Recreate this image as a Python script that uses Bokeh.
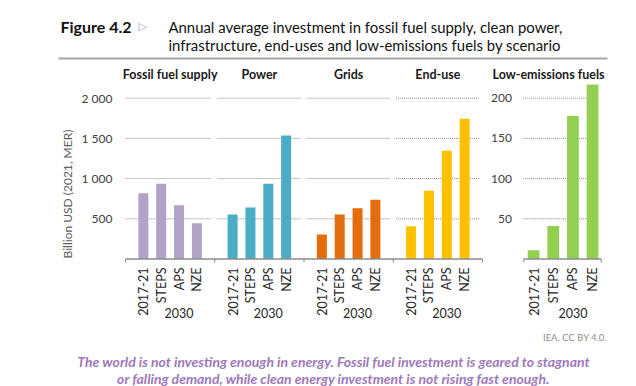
from math import pi
from bokeh.plotting import figure
from bokeh.layouts import column
from bokeh.models import Range1d, FixedTicker, ColumnDataSource
from bokeh.core.properties import value
from bokeh.embed import file_html
from bokeh.resources import INLINE

# ---------------- data ----------------
groups = ["Fossil fuel supply", "Power", "Grids", "End-use"]
right_group = "Low-emissions fuels"
scenarios = ["2017-21", "STEPS", "APS", "NZE"]
period = "2030"
fossil = [818, 935, 668, 445]
power = [555, 642, 935, 1536]
grids = [305, 553, 632, 736]
end_use = [408, 848, 1346, 1744]
low_emissions = [11, 41, 178, 217]
left_ticks = [500, 1000, 1500, 2000]
left_tick_labels = ["500", "1 000", "1 500", "2 000"]
right_ticks = [50, 100, 150, 200]
right_tick_labels = ["50", "100", "150", "200"]
group_colors = ["#b3a2c7", "#4bacc6", "#e46c0a", "#ffc000"]
right_color = "#92d050"
y_label = "Billion USD (2021, MER)"
fig_label = "Figure 4.2"
title_lines = ["Annual average investment in fossil fuel supply, clean power,",
               "infrastructure, end-uses and low-emissions fuels by scenario"]
caption_lines = ["The world is not investing enough in energy. Fossil fuel investment is geared to stagnant",
                 "or falling demand, while clean energy investment is not rising fast enough."]
credit = "IEA. CC BY 4.0."

# ---------------- layout constants (page pixels) ----------------
W = 636
HEAD_H, MAIN_T, MAIN_B, FULL_H = 62, 62, 325, 386
FRAME_L, FRAME_R = 122, 636
X0_L, PX_L = 125.0, 17.85        # left panel: x=0 position and px per slot
X0_R, PX_R = 523.3, 19.65        # right panel
Y0 = 258.5                       # page y of value 0
UPP = 500 / 40.2                 # left units per pixel
UPP_R = UPP / 10
FONT = "Lato"


def ypx(py, upp=UPP):
    return (Y0 - py) * upp


def bare(fig):
    fig.outline_line_color = None
    fig.xgrid.grid_line_color = None
    fig.ygrid.grid_line_color = None
    fig.background_fill_color = "white"
    fig.border_fill_color = "white"


# ---------------- header ----------------
head = figure(width=W, height=HEAD_H, output_backend="svg", toolbar_location=None, title=None,
              x_axis_location=None, y_axis_location=None, frame_align=False,
              x_range=Range1d(0, W), y_range=Range1d(HEAD_H, 0),
              min_border_left=0, min_border_right=0, min_border_top=0, min_border_bottom=0)
bare(head)


def htext(fig, x, y, txt, size, style="normal", color="#111111", align="left", font=FONT):
    fig.text(x=[x], y=[y], text=[txt], text_font=value(font), text_font_size=value(size),
             text_font_style=style, text_color=color, text_align=align,
             text_baseline="alphabetic")


htext(head, 60, 26, fig_label, "16px", "bold")
htext(head, 138, 25.5, "\u25B7", "11px", color="#a592c2", font="DejaVu Sans")
htext(head, 168, 26, title_lines[0], "14.9px")
htext(head, 168, 44.5, title_lines[1], "14.9px")
head.segment(x0=[58], x1=[607], y0=[58], y1=[58], line_color="#a6a6a6", line_width=2)

# ---------------- main chart ----------------
MH = MAIN_B - MAIN_T
p = figure(width=W, height=MH, output_backend="svg", toolbar_location=None,
           title=None, x_axis_location=None, frame_align=False,
           x_range=Range1d((FRAME_L - X0_L) / PX_L, (FRAME_R - X0_L) / PX_L),
           y_range=Range1d((Y0 - MAIN_B) * UPP, (Y0 - MAIN_T) * UPP),
           min_border_left=FRAME_L, min_border_right=0,
           min_border_top=0, min_border_bottom=0)
p.extra_x_ranges = {"r": Range1d((FRAME_L - X0_R) / PX_R, (FRAME_R - X0_R) / PX_R)}
p.extra_y_ranges = {"r": Range1d((Y0 - MAIN_B) * UPP_R, (Y0 - MAIN_T) * UPP_R)}
bare(p)

ax = p.yaxis[0]
ax.ticker = FixedTicker(ticks=left_ticks)
ax.major_label_overrides = dict(zip(left_ticks, left_tick_labels))
ax.axis_line_color = None
ax.major_tick_line_color = None
ax.minor_tick_line_color = None
ax.major_tick_out = 0
ax.major_tick_in = 0
ax.major_label_standoff = 10
ax.major_label_text_font = FONT
ax.major_label_text_font_size = "12px"
ax.major_label_text_color = "#404040"
ax.axis_label = y_label
ax.axis_label_text_font = FONT
ax.axis_label_text_font_style = "normal"
ax.axis_label_text_font_size = "12px"
ax.axis_label_text_color = "#606060"
ax.axis_label_standoff = 4

# gridlines (per panel, dotted)
n = len(groups)
gx0, gx1, gy = [], [], []
for g in range(n):
    for t in left_ticks:
        gx0.append(5 * g + (0 if g == 0 else 0.15))
        gx1.append(5 * g + 4.8)
        gy.append(t)
p.segment(x0=gx0, x1=gx1, y0=gy, y1=gy, line_color="#8a8a8a", line_width=1, line_dash="1 1")
p.segment(x0=[-0.05] * 4, x1=[3.79] * 4, y0=right_ticks, y1=right_ticks,
          line_color="#8a8a8a", line_width=1, line_dash="1 1",
          x_range_name="r", y_range_name="r")

# bars
series = [fossil, power, grids, end_use]
bx, btop, bcol = [], [], []
for g, vals in enumerate(series):
    for k, v in enumerate(vals):
        bx.append(5 * g + k + 1)
        btop.append(v)
        bcol.append(group_colors[g])
src = ColumnDataSource(dict(x=bx, top=btop, color=bcol))
p.vbar(x="x", top="top", bottom=0, width=0.56, fill_color="color", line_color=None, source=src)

rx = [k + 0.5 for k in range(len(low_emissions))]
p.vbar(x=rx, top=low_emissions, bottom=0, width=0.6, fill_color=right_color, line_color=None,
       x_range_name="r", y_range_name="r")

# x axis lines with ticks
p.segment(x0=[0], x1=[5 * n], y0=[0], y1=[0], line_color="#8c8c8c", line_width=1.5)
tx = [5 * g for g in range(n + 1)]
p.segment(x0=tx, x1=tx, y0=[0] * len(tx), y1=[-3.5 * UPP] * len(tx), line_color="#8c8c8c", line_width=1)
p.segment(x0=[0], x1=[3.94], y0=[0], y1=[0], line_color="#8c8c8c", line_width=1.5,
          x_range_name="r", y_range_name="r")
p.segment(x0=[0, 3.94], x1=[0, 3.94], y0=[0, 0], y1=[-3.5 * UPP_R] * 2, line_color="#8c8c8c",
          line_width=1, x_range_name="r", y_range_name="r")

# rotated scenario labels
p.text(x=bx, y=[ypx(267)] * len(bx), text=scenarios * n, angle=pi / 2,
       text_align="right", text_baseline="middle", text_font=value(FONT),
       text_font_size=value("12.5px"), text_color="#262626")
p.text(x=rx, y=[ypx(267, UPP_R)] * len(rx), text=scenarios, angle=pi / 2,
       text_align="right", text_baseline="middle", text_font=value(FONT),
       text_font_size=value("12.5px"), text_color="#262626",
       x_range_name="r", y_range_name="r")
# period labels
p.text(x=[5 * g + 3 for g in range(n)], y=[ypx(312)] * n, text=[period] * n,
       text_align="center", text_baseline="middle", text_font=value(FONT),
       text_font_size=value("12.5px"), text_color="#262626")
p.text(x=[2.5], y=[ypx(312, UPP_R)], text=[period],
       text_align="center", text_baseline="middle", text_font=value(FONT),
       text_font_size=value("12.5px"), text_color="#262626",
       x_range_name="r", y_range_name="r")
# group titles
p.text(x=[5 * g + 2.5 for g in range(n)], y=[ypx(74)] * n, text=groups,
       text_align="center", text_baseline="middle", text_font=value(FONT),
       text_font_style="bold", text_font_size=value("12.5px"), text_color="#1a1a1a")
p.text(x=[(548 - X0_R) / PX_R], y=[ypx(73.5, UPP_R)], text=[right_group],
       text_align="center", text_baseline="middle", text_font=value(FONT),
       text_font_style="bold", text_font_size=value("12.5px"), text_color="#1a1a1a",
       x_range_name="r", y_range_name="r")
# right panel tick labels
p.text(x=[(511.5 - X0_R) / PX_R] * len(right_ticks), y=right_ticks, text=right_tick_labels,
       text_align="right", text_baseline="middle", text_font=value(FONT),
       text_font_size=value("12px"), text_color="#404040",
       x_range_name="r", y_range_name="r")

# ---------------- footer ----------------
FH = FULL_H - MAIN_B
foot = figure(width=W, height=FH, output_backend="svg", toolbar_location=None, title=None,
              x_axis_location=None, y_axis_location=None, frame_align=False,
              x_range=Range1d(0, W), y_range=Range1d(FULL_H, MAIN_B),
              min_border_left=0, min_border_right=0, min_border_top=0, min_border_bottom=0)
bare(foot)
htext(foot, 606.5, 337, credit, "9.5px", color="#8c8c8c", align="right")
htext(foot, 333, 361, caption_lines[0], "14px", "bold italic", "#9e78b9", align="center")
htext(foot, 333, 378, caption_lines[1], "14px", "bold italic", "#9e78b9", align="center")

layout = column(head, p, foot, spacing=0)
open("out.html", "w").write(file_html(layout, INLINE))
